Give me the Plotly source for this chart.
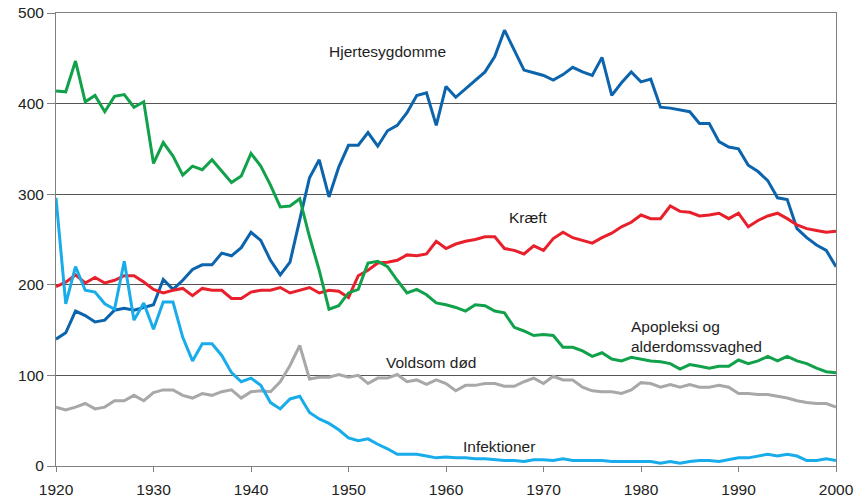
import plotly.graph_objects as go

years = list(range(1920, 2001))

hjerte = [140, 147, 171, 166, 159, 161, 172, 174, 172, 175,
          178, 206, 195, 205, 217, 222, 222, 235, 232, 241,
          258, 249, 227, 211, 225, 272, 318, 338, 297, 330,
          354, 354, 368, 353, 370, 376, 390, 409, 412, 376,
          419, 407, 416, 425, 435, 452, 481, 459, 437, 434,
          431, 426, 432, 440, 435, 431, 451, 409, 423, 435,
          424, 427, 396, 395, 393, 391, 378, 378, 358, 352,
          350, 332, 325, 315, 296, 294, 262, 252, 244, 238,
          220]

kraeft = [198, 203, 211, 202, 208, 202, 205, 210, 210, 203,
          195, 191, 194, 196, 188, 196, 194, 194, 185, 185,
          192, 194, 194, 197, 191, 194, 197, 191, 194, 193,
          186, 210, 216, 224, 225, 227, 233, 232, 234, 248,
          240, 245, 248, 250, 253, 253, 240, 238, 234, 243,
          238, 251, 258, 252, 249, 246, 252, 257, 264, 269,
          277, 273, 273, 287, 281, 280, 276, 277, 279, 273,
          279, 264, 271, 276, 279, 273, 266, 262, 260, 258,
          259]

apopleksi = [414, 413, 447, 402, 409, 391, 408, 410, 396, 402,
             334, 357, 342, 321, 331, 327, 338, 326, 313, 320,
             345, 331, 310, 286, 287, 295, 253, 216, 173, 177,
             191, 195, 224, 226, 220, 205, 191, 195, 189, 180,
             178, 175, 171, 178, 177, 171, 169, 153, 149, 144,
             145, 144, 131, 131, 127, 121, 125, 118, 116, 120,
             118, 116, 115, 113, 107, 112, 110, 108, 110, 110,
             117, 113, 116, 121, 116, 121, 116, 113, 108, 104,
             103]

voldsom = [65, 62, 65, 69, 63, 65, 72, 72, 78, 72,
           81, 84, 84, 78, 75, 80, 78, 82, 84, 75,
           82, 83, 82, 93, 111, 133, 96, 98, 98, 101,
           98, 100, 91, 97, 97, 101, 93, 95, 90, 95,
           91, 83, 89, 89, 91, 91, 88, 88, 93, 97,
           91, 99, 95, 95, 87, 83, 82, 82, 80, 84,
           92, 91, 87, 90, 87, 90, 87, 87, 89, 87,
           80, 80, 79, 79, 77, 75, 72, 70, 69, 69,
           65]

infektioner = [296, 179, 220, 194, 192, 179, 173, 226, 161, 180,
               151, 181, 181, 142, 116, 135, 135, 122, 103, 93,
               97, 89, 70, 63, 74, 77, 59, 52, 47, 40,
               31, 28, 30, 24, 19, 13, 13, 13, 11, 9,
               10, 9, 9, 8, 8, 7, 6, 6, 5, 7,
               7, 6, 8, 6, 6, 6, 6, 5, 5, 5,
               5, 5, 3, 5, 3, 5, 6, 6, 5, 7,
               9, 9, 11, 13, 11, 13, 11, 6, 6, 8,
               6]

series = [
    ("Hjertesygdomme", hjerte, "#0C64AC"),
    ("Kræft", kraeft, "#E8202C"),
    ("Apopleksi og alderdomssvaghed", apopleksi, "#12A14B"),
    ("Voldsom død", voldsom, "#A8A8A8"),
    ("Infektioner", infektioner, "#18ACEA"),
]

x_ticks = [1920, 1930, 1940, 1950, 1960, 1970, 1980, 1990, 2000]
y_ticks = [0, 100, 200, 300, 400, 500]

fig = go.Figure()
for name, vals, col in series:
    fig.add_trace(go.Scatter(x=years, y=vals, mode="lines", name=name,
                             line=dict(color=col, width=3)))

labels = [
    ("Hjertesygdomme", 1947.8, 458, "left"),
    ("Kræft", 1968.5, 274, "center"),
    ("Voldsom død", 1953.6, 114, "left"),
    ("Infektioner", 1961.5, 21, "left"),
    ("Apopleksi og<br>alderdomssvaghed", 1978.8, 142.5, "left"),
]
for txt, xv, yv, al in labels:
    fig.add_annotation(x=xv, y=yv, text=txt, showarrow=False, xanchor=al,
                       yanchor="middle", align="left",
                       font=dict(family="Liberation Sans, Arial", size=15.5, color="#1E1E1E"))

fig.update_layout(
    width=855, height=499,
    margin=dict(l=55.5, r=19, t=13.3, b=33.3),
    paper_bgcolor="white", plot_bgcolor="white",
    showlegend=False,
    font=dict(family="Liberation Sans, Arial", size=15.5, color="#222222"),
)
fig.update_xaxes(range=[1920, 2000], tickvals=x_ticks, showgrid=False,
                 showline=True, linecolor="#808080", linewidth=1,
                 ticks="outside", ticklen=5, tickcolor="#808080",
                 ticklabelstandoff=4,
                 mirror=True, zeroline=False, tickfont=dict(size=15.5),
                 automargin=False)
fig.update_yaxes(range=[0, 500], tickvals=y_ticks, showgrid=True,
                 gridcolor="#555555", gridwidth=1,
                 showline=True, linecolor="#808080", linewidth=1,
                 ticks="outside", ticklen=8, tickcolor="#808080",
                 mirror=True, zeroline=False, tickfont=dict(size=15.5),
                 automargin=False)

fig.write_html("out.html", config={"displayModeBar": False},
               post_script="document.body.style.margin='0px';")
